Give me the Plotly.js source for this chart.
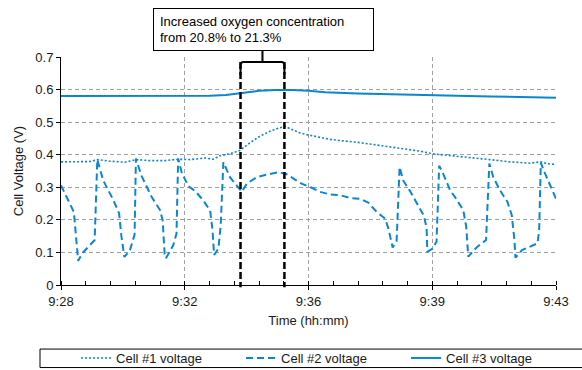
<!DOCTYPE html>
<html>
<head>
<meta charset="utf-8">
<script src="https://cdn.plot.ly/plotly-3.0.1.min.js"></script>
<style>
  html, body { margin: 0; padding: 0; background: #fff; }
  #chart { width: 582px; height: 370px; }
</style>
</head>
<body>
<div id="chart"></div>
<script>
// Time is in minutes after 9:28.
const tickPos = [0, 3.75, 7.5, 11.25, 15];
const tickLabels = ['9:28', '9:32', '9:36', '9:39', '9:43'];

// Window during which the oxygen concentration was raised.
const oxygenWindow = [5.44, 6.77];

// Cell #1 voltage (V)
const cell1T = [0, 0.42, 0.88, 1.12, 1.48, 1.94, 2.27, 2.70, 3.15, 3.55, 3.91, 4.36, 4.61, 4.82,
  5.12, 5.42, 5.73, 6.03, 6.33, 6.64, 6.79, 6.94, 7.24, 7.48, 8.15, 9.06, 9.97, 10.88, 11.24,
  11.79, 12.39, 13.0, 13.61, 14.21, 14.52, 14.76, 15];
const cell1V = [0.378, 0.378, 0.379, 0.385, 0.380, 0.377, 0.385, 0.382, 0.382, 0.386, 0.385, 0.390,
  0.386, 0.397, 0.403, 0.413, 0.437, 0.457, 0.472, 0.483, 0.487, 0.480, 0.467, 0.461, 0.447, 0.437,
  0.423, 0.411, 0.403, 0.398, 0.391, 0.385, 0.378, 0.374, 0.378, 0.372, 0.370];

// Cell #2 voltage (V)
const cell2T = [0.00, 0.22, 0.39, 0.52, 0.64, 1.02, 1.10, 1.28, 1.58, 1.76, 1.83, 1.92, 2.09, 2.23,
  2.27, 2.44, 2.75, 3.00, 3.08, 3.14, 3.18, 3.40, 3.50, 3.55, 3.66, 3.86, 4.06, 4.31, 4.52, 4.59,
  4.64, 4.77, 4.84, 4.92, 5.12, 5.32, 5.48, 5.63, 5.93, 6.23, 6.54, 6.79, 7.04, 7.29, 7.55, 7.85,
  8.15, 8.45, 8.76, 9.06, 9.31, 9.57, 9.82, 9.92, 10.05, 10.17, 10.26, 10.37, 10.59, 10.79, 11.0,
  11.08, 11.10, 11.26, 11.38, 11.46, 11.58, 11.79, 11.94, 12.19, 12.28, 12.34, 12.61, 12.88, 12.98,
  13.10, 13.30, 13.53, 13.66, 13.74, 13.77, 13.97, 14.44, 14.49, 14.54, 14.67, 14.87, 15.0];
const cell2V = [0.306, 0.260, 0.224, 0.074, 0.097, 0.138, 0.385, 0.321, 0.262, 0.220, 0.150, 0.086,
  0.107, 0.155, 0.388, 0.335, 0.270, 0.230, 0.199, 0.095, 0.082, 0.122, 0.158, 0.388, 0.345, 0.303,
  0.289, 0.260, 0.228, 0.170, 0.092, 0.112, 0.184, 0.377, 0.331, 0.306, 0.286, 0.311, 0.331, 0.339,
  0.345, 0.343, 0.327, 0.311, 0.301, 0.286, 0.278, 0.276, 0.267, 0.265, 0.253, 0.224, 0.204, 0.174,
  0.115, 0.135, 0.362, 0.321, 0.286, 0.252, 0.212, 0.174, 0.102, 0.112, 0.133, 0.366, 0.342, 0.291,
  0.270, 0.230, 0.179, 0.087, 0.117, 0.138, 0.373, 0.331, 0.291, 0.255, 0.214, 0.138, 0.084, 0.107,
  0.128, 0.168, 0.375, 0.342, 0.296, 0.265];

// Cell #3 voltage (V)
const cell3T = [0, 0.5, 1, 1.5, 2, 2.5, 3, 3.5, 4, 4.5, 5, 5.5, 6, 6.5, 7, 7.5, 8, 9, 10, 11, 12,
  13, 14, 15];
const cell3V = [0.580, 0.580, 0.579, 0.580, 0.580, 0.580, 0.580, 0.580, 0.580, 0.581, 0.583, 0.589,
  0.596, 0.599, 0.599, 0.596, 0.592, 0.588, 0.585, 0.583, 0.581, 0.579, 0.577, 0.575];

const blue = '#0b86d0';
const fontFamily = '"Liberation Sans", Arial, sans-serif';

const traces = [
  { x: cell1T, y: cell1V, name: 'Cell #1 voltage', mode: 'lines',
    line: { color: blue, width: 1.6, dash: '2px,2px' } },
  { x: cell2T, y: cell2V, name: 'Cell #2 voltage', mode: 'lines',
    line: { color: blue, width: 2, dash: '7px,4px' } },
  { x: cell3T, y: cell3V, name: 'Cell #3 voltage', mode: 'lines',
    line: { color: blue, width: 2 } }
];

// Bracket marking the oxygen step (x in minutes, y in paper units)
const xa = oxygenWindow[0], xb = oxygenWindow[1], xm = (xa + xb) / 2;
const bracketTop = 0.978, solidEnd = 0.921, rx = 0.09, ry = 0.013;
const bracketPath =
  `M ${xa},${solidEnd} L ${xa},${bracketTop - ry} Q ${xa},${bracketTop} ${xa + rx},${bracketTop} ` +
  `L ${xb - rx},${bracketTop} Q ${xb},${bracketTop} ${xb},${bracketTop - ry} L ${xb},${solidEnd} ` +
  `M ${xm},${bracketTop} L ${xm},1.026`;

const shapes = [
  { type: 'path', xref: 'x', yref: 'paper', path: bracketPath,
    line: { color: '#000', width: 2 } },
  { type: 'line', xref: 'x', yref: 'paper', x0: xa, x1: xa, y0: bracketTop, y1: -0.01,
    line: { color: '#000', width: 2.5, dash: '7px,3px' } },
  { type: 'line', xref: 'x', yref: 'paper', x0: xb, x1: xb, y0: bracketTop, y1: -0.01,
    line: { color: '#000', width: 2.5, dash: '7px,3px' } },
  // legend frame
  { type: 'rect', xref: 'paper', yref: 'paper', x0: -0.0424, x1: 1.07, y0: -0.362, y1: -0.281,
    line: { color: '#000', width: 1 }, layer: 'below' }
];

const layout = {
  width: 582, height: 370,
  margin: { l: 61, r: 26, t: 57, b: 85 },
  paper_bgcolor: '#fff', plot_bgcolor: '#fff',
  font: { family: fontFamily, size: 13, color: '#1a1a1a' },
  showlegend: true,
  legend: {
    orientation: 'h', xref: 'container', yref: 'container',
    x: 0.1306, xanchor: 'left', y: 0.0324, yanchor: 'middle',
    bgcolor: 'rgba(0,0,0,0)', borderwidth: 0, entrywidth: 120, entrywidthmode: 'pixels',
    font: { family: fontFamily, size: 13, color: '#1a1a1a' }, traceorder: 'normal'
  },
  xaxis: {
    range: [0, 15], tickmode: 'array', tickvals: tickPos, ticktext: tickLabels,
    showline: true, linecolor: '#000', linewidth: 1, zeroline: false,
    ticks: 'outside', ticklen: 4, tickcolor: '#000',
    showgrid: true, gridcolor: '#a0a0a0', gridwidth: 1, griddash: '4px,3px',
    minor: { dtick: 0.75, ticks: 'inside', ticklen: 4, tickcolor: '#000', showgrid: false },
    title: { text: 'Time (hh:mm)', standoff: 8, font: { size: 13 } }
  },
  yaxis: {
    range: [0, 0.7], dtick: 0.1, tick0: 0,
    showline: true, linecolor: '#000', linewidth: 1, zeroline: false,
    ticks: 'outside', ticklen: 4, tickcolor: '#000',
    showgrid: true, gridcolor: '#a0a0a0', gridwidth: 1, griddash: '4px,3px',
    title: { text: 'Cell Voltage (V)', standoff: 8, font: { size: 13 } }
  },
  shapes: shapes,
  annotations: [{
    xref: 'paper', yref: 'paper', x: 0.409, y: 1.1206, xanchor: 'center', yanchor: 'middle',
    text: 'Increased oxygen concentration<br>from 20.8% to 21.3%',
    showarrow: false, align: 'left', width: 207, height: 29,
    bordercolor: '#000', borderwidth: 1, borderpad: 6, bgcolor: '#fff',
    font: { family: fontFamily, size: 13, color: '#000' }
  }]
};

Plotly.newPlot('chart', traces, layout, { staticPlot: true, displayModeBar: false });
</script>
</body>
</html>
